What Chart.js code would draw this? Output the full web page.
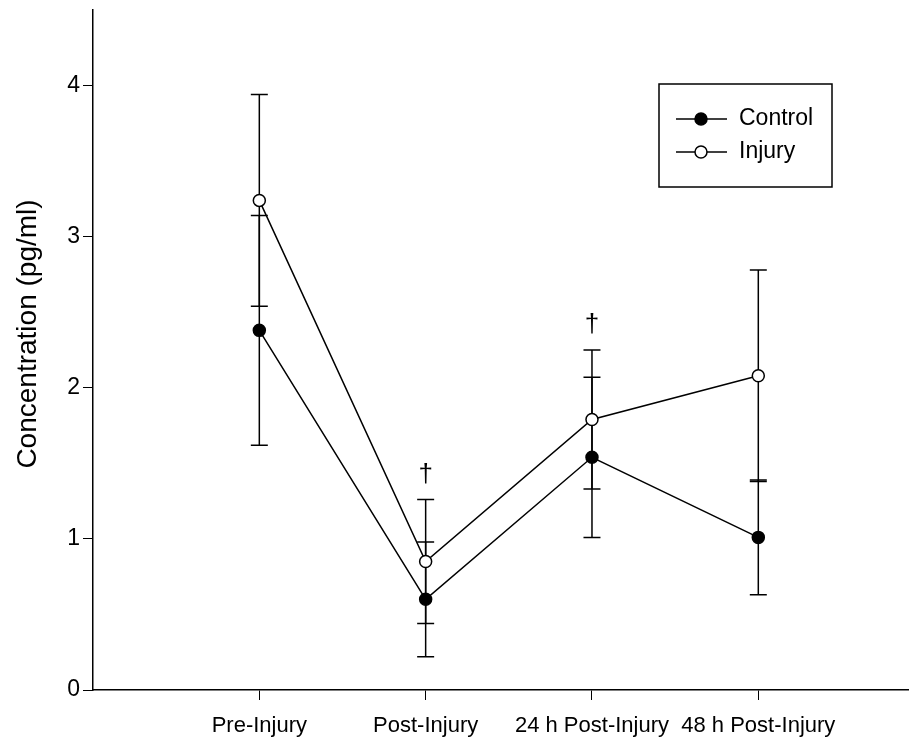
<!DOCTYPE html>
<html>
<head>
<meta charset="utf-8">
<title>Concentration over time</title>
<script src="https://cdn.jsdelivr.net/npm/chart.js@4/dist/chart.umd.min.js"></script>
<style>
  html, body { margin: 0; padding: 0; background: #fff; }
  #wrap { width: 919px; height: 745px; }
</style>
</head>
<body>
<div id="wrap"><canvas id="c" width="919" height="745"></canvas></div>
<script>
// Time points
const categories = ['Pre-Injury', 'Post-Injury', '24 h Post-Injury', '48 h Post-Injury'];

// Group means (pg/ml) and their error (±)
const controlMean = [2.38, 0.60, 1.54, 1.01];
const controlErr  = [0.76, 0.38, 0.53, 0.38];
const injuryMean  = [3.24, 0.85, 1.79, 2.08];
const injuryErr   = [0.70, 0.41, 0.46, 0.70];

// Significance marks shown above each time point
const significance = ['', '\u2020', '\u2020', ''];

// Y axis ticks and title
const yTicks = [0, 1, 2, 3, 4];
const yTitle = 'Concentration (pg/ml)';

const FONT = '"Liberation Sans", Arial, sans-serif';

function toPoints(values) {
  return values.map((v, i) => ({ x: i + 1, y: v }));
}

// Vertical error bars with caps, drawn beneath the markers
const errorBars = {
  id: 'errorBars',
  beforeDatasetsDraw(chart) {
    const { ctx, scales: { x, y } } = chart;
    const cap = 8.5;
    ctx.save();
    ctx.strokeStyle = '#000';
    ctx.lineWidth = 1.5;
    chart.data.datasets.forEach(ds => {
      ds.data.forEach((p, i) => {
        const e = ds.errors[i];
        const px = x.getPixelForValue(p.x);
        const top = y.getPixelForValue(p.y + e);
        const bot = y.getPixelForValue(p.y - e);
        ctx.beginPath();
        ctx.moveTo(px, top); ctx.lineTo(px, bot);
        ctx.moveTo(px - cap, top); ctx.lineTo(px + cap, top);
        ctx.moveTo(px - cap, bot); ctx.lineTo(px + cap, bot);
        ctx.stroke();
      });
    });
    ctx.restore();
  }
};

// Dagger marks placed above the highest error bar at a time point
const sigMarks = {
  id: 'sigMarks',
  afterDatasetsDraw(chart) {
    const { ctx, scales: { x, y } } = chart;
    ctx.save();
    ctx.fillStyle = '#000';
    ctx.font = '26px ' + FONT;
    ctx.textAlign = 'center';
    ctx.textBaseline = 'middle';
    significance.forEach((s, i) => {
      if (!s) return;
      let hi = -Infinity;
      chart.data.datasets.forEach(ds => {
        hi = Math.max(hi, ds.data[i].y + ds.errors[i]);
      });
      ctx.fillText(s, x.getPixelForValue(i + 1), y.getPixelForValue(hi) - 25);
    });
    ctx.restore();
  }
};

// Rotated y axis title, set a little above the middle of the axis
const axisTitle = {
  id: 'axisTitle',
  afterDraw(chart) {
    const { ctx, chartArea } = chart;
    ctx.save();
    ctx.translate(28, (chartArea.top + chartArea.bottom) / 2 - 16);
    ctx.rotate(-Math.PI / 2);
    ctx.fillStyle = '#000';
    ctx.font = '28px ' + FONT;
    ctx.textAlign = 'center';
    ctx.textBaseline = 'middle';
    ctx.fillText(yTitle, 0, 0);
    ctx.restore();
  }
};

// Boxed legend in the upper right of the plot
const boxLegend = {
  id: 'boxLegend',
  afterDraw(chart) {
    const { ctx, chartArea } = chart;
    const left = chartArea.right - 249, top = chartArea.top + 74;
    const w = 173, h = 103;
    ctx.save();
    ctx.strokeStyle = '#000';
    ctx.lineWidth = 1.5;
    ctx.strokeRect(left, top, w, h);
    ctx.font = '23px ' + FONT;
    ctx.textBaseline = 'middle';
    ctx.textAlign = 'left';
    chart.data.datasets.forEach((ds, i) => {
      const ry = top + 35 + i * 33;
      ctx.beginPath();
      ctx.moveTo(left + 17, ry); ctx.lineTo(left + 68, ry);
      ctx.stroke();
      ctx.beginPath();
      ctx.arc(left + 42, ry, 6, 0, Math.PI * 2);
      ctx.fillStyle = ds.pointBackgroundColor;
      ctx.fill();
      ctx.stroke();
      ctx.fillStyle = '#000';
      ctx.fillText(ds.label, left + 80, ry);
    });
    ctx.restore();
  }
};

const chart = new Chart(document.getElementById('c'), {
  type: 'line',
  data: {
    datasets: [
      {
        label: 'Control',
        data: toPoints(controlMean),
        errors: controlErr,
        borderColor: '#000',
        borderWidth: 1.5,
        pointRadius: 6,
        pointBorderWidth: 1.5,
        pointBackgroundColor: '#000',
        pointBorderColor: '#000',
        tension: 0,
        fill: false
      },
      {
        label: 'Injury',
        data: toPoints(injuryMean),
        errors: injuryErr,
        borderColor: '#000',
        borderWidth: 1.5,
        pointRadius: 6,
        pointBorderWidth: 1.5,
        pointBackgroundColor: '#fff',
        pointBorderColor: '#000',
        tension: 0,
        fill: false
      }
    ]
  },
  options: {
    responsive: false,
    animation: false,
    layout: { padding: { top: 10, right: 11, left: 0, bottom: 0 } },
    plugins: {
      legend: { display: false },
      tooltip: { enabled: false }
    },
    scales: {
      x: {
        type: 'linear',
        min: 0,
        max: 4.9,
        afterBuildTicks: s => { s.ticks = categories.map((_, i) => ({ value: i + 1 })); },
        afterFit: s => { s.height = 55; s.paddingLeft = 0; s.paddingRight = 0; },
        ticks: {
          autoSkip: false,
          maxRotation: 0,
          padding: 13,
          color: '#000',
          font: { family: FONT, size: 22 },
          callback: v => categories[v - 1] || ''
        },
        grid: { drawOnChartArea: false, drawTicks: true, tickLength: 10, color: '#000', lineWidth: 1 },
        border: { display: true, color: '#000', width: 1.5 }
      },
      y: {
        min: 0,
        max: 4.5,
        afterBuildTicks: s => { s.ticks = yTicks.map(v => ({ value: v })); },
        afterFit: s => { s.width = 93; s.paddingTop = 0; s.paddingBottom = 0; },
        ticks: {
          padding: 3,
          color: '#000',
          font: { family: FONT, size: 23 }
        },
        grid: { drawOnChartArea: false, drawTicks: true, tickLength: 10, color: '#000', lineWidth: 1 },
        border: { display: true, color: '#000', width: 1.5 }
      }
    }
  },
  plugins: [errorBars, sigMarks, axisTitle, boxLegend]
});
</script>
</body>
</html>
